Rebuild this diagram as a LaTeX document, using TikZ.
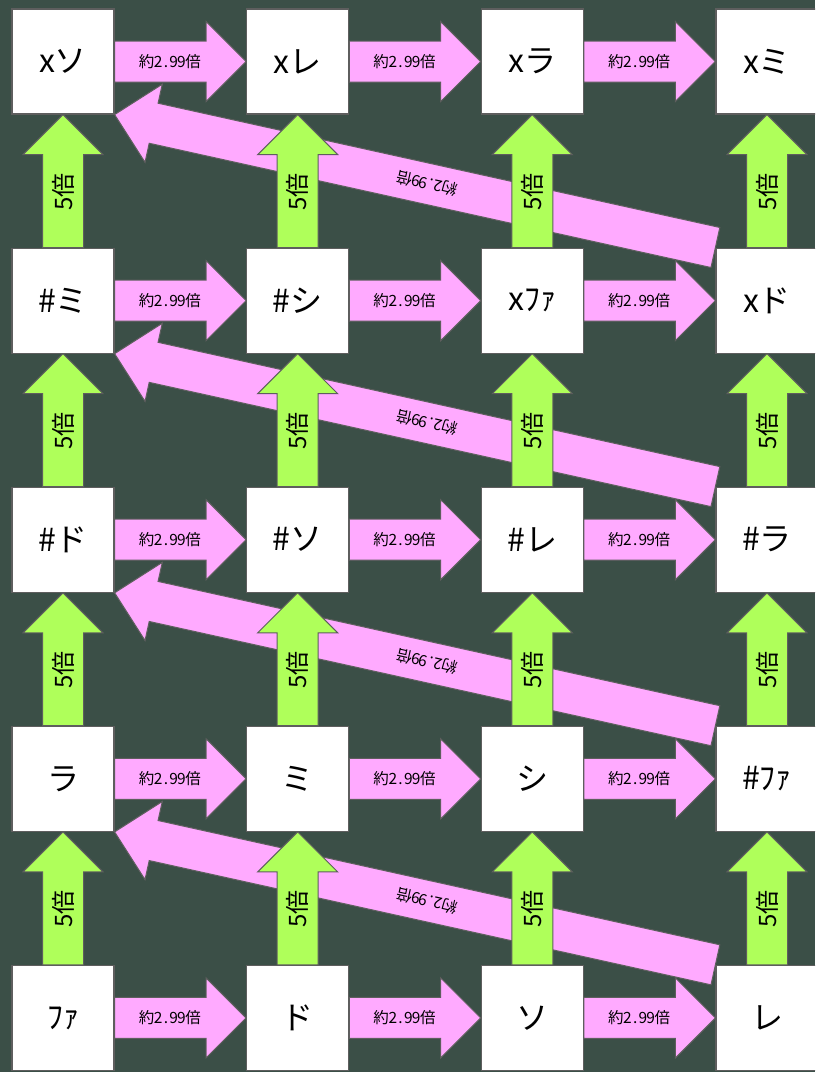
\documentclass[tikz,border=0pt]{standalone}
\usepackage{fontspec}
\setmainfont{Noto Sans CJK JP}
\usetikzlibrary{calc}
\definecolor{bgc}{HTML}{3B4F47}
\definecolor{pinkc}{HTML}{FFAAFF}
\definecolor{greenc}{HTML}{AFFF5A}
\definecolor{edgec}{HTML}{5E5E5E}
\pgfdeclarelayer{bglayer}
\pgfdeclarelayer{diaglayer}
\pgfdeclarelayer{arrlayer}
\pgfsetlayers{bglayer,diaglayer,arrlayer,main}
\newcommand{\hw}[1]{\makebox[0.5em]{#1}}
\newcommand{\hlab}{\fontsize{15.5}{16}\selectfont}
\newcommand{\vlab}{\fontsize{24}{24}\selectfont}
\newcommand{\ratio}{約\hw{2}\hw{.}\hw{9}\hw{9}倍}
% #1 name, #2 tail, #3 tip, #4 fill, #5 label, #6 rotation, #7 label position
\newcommand{\fatarrow}[7]{%
  \coordinate (#1-h) at ($(#3)!40pt!(#2)$);
  \filldraw[fill=#4, draw=edgec, line width=1pt, line join=miter]
    ($(#2)!20.5pt!90:(#3)$) -- ($(#1-h)!20.5pt!90:(#3)$) -- ($(#1-h)!40pt!90:(#3)$)
    -- (#3) -- ($(#1-h)!40pt!-90:(#3)$) -- ($(#1-h)!20.5pt!-90:(#3)$)
    -- ($(#2)!20.5pt!-90:(#3)$) -- cycle;
  \node[rotate=#6, inner sep=0pt, text=black] (#1-l) at ($(#2)!#7!(#3)$) {#5};
}
\begin{document}
\begin{tikzpicture}[x=1pt,y=-1pt,
  box/.style={draw=edgec, fill=white, line width=1.2pt, minimum width=102pt,
    minimum height=105pt, inner sep=0pt, font=\fontsize{32}{32}\selectfont}]
\useasboundingbox (0,0) rectangle (815,1072);
\begin{pgfonlayer}{bglayer}
  \fill[bgc] (0,0) rectangle (815,1072);
\end{pgfonlayer}
\clip (0,0) rectangle (815,1072);
% boxes (row, column)
\node[box] (b00) at (63,61.5)    {xソ};
\node[box] (b01) at (297.7,61.5) {xレ};
\node[box] (b02) at (532.3,61.5) {xラ};
\node[box] (b03) at (767,61.5)   {xミ};
\node[box] (b10) at (63,300.6)    {\#ミ};
\node[box] (b11) at (297.7,300.6) {\#シ};
\node[box] (b12) at (532.3,300.6) {xﾌｧ};
\node[box] (b13) at (767,300.6)   {xド};
\node[box] (b20) at (63,539.7)    {\#ド};
\node[box] (b21) at (297.7,539.7) {\#ソ};
\node[box] (b22) at (532.3,539.7) {\#レ};
\node[box] (b23) at (767,539.7)   {\#ラ};
\node[box] (b30) at (63,778.8)    {ラ};
\node[box] (b31) at (297.7,778.8) {ミ};
\node[box] (b32) at (532.3,778.8) {シ};
\node[box] (b33) at (767,778.8)   {\#ﾌｧ};
\node[box] (b40) at (63,1017.9)    {ﾌｧ};
\node[box] (b41) at (297.7,1017.9) {ド};
\node[box] (b42) at (532.3,1017.9) {ソ};
\node[box] (b43) at (767,1017.9)   {レ};
% diagonal arrows
\begin{pgfonlayer}{diaglayer}
\foreach \r/\s in {0/1,1/2,2/3,3/4}{
  \fatarrow{d\r}{b\s3.north west}{b\r0.south east}{pinkc}{\hlab\ratio}{167.45}{0.48}
}
\end{pgfonlayer}
% vertical and horizontal arrows
\begin{pgfonlayer}{arrlayer}
\foreach \r/\s in {0/1,1/2,2/3,3/4}{
  \foreach \c in {0,1,2,3}{
    \fatarrow{v\r\c}{b\s\c.north}{b\r\c.south}{greenc}{\vlab\hw{5}倍}{90}{0.42}
  }
}
\foreach \r in {0,1,2,3,4}{
  \foreach \c/\d in {0/1,1/2,2/3}{
    \fatarrow{h\r\c}{b\r\c.east}{b\r\d.west}{pinkc}{\hlab\ratio}{0}{0.42}
  }
}
\end{pgfonlayer}
\end{tikzpicture}
\end{document}
